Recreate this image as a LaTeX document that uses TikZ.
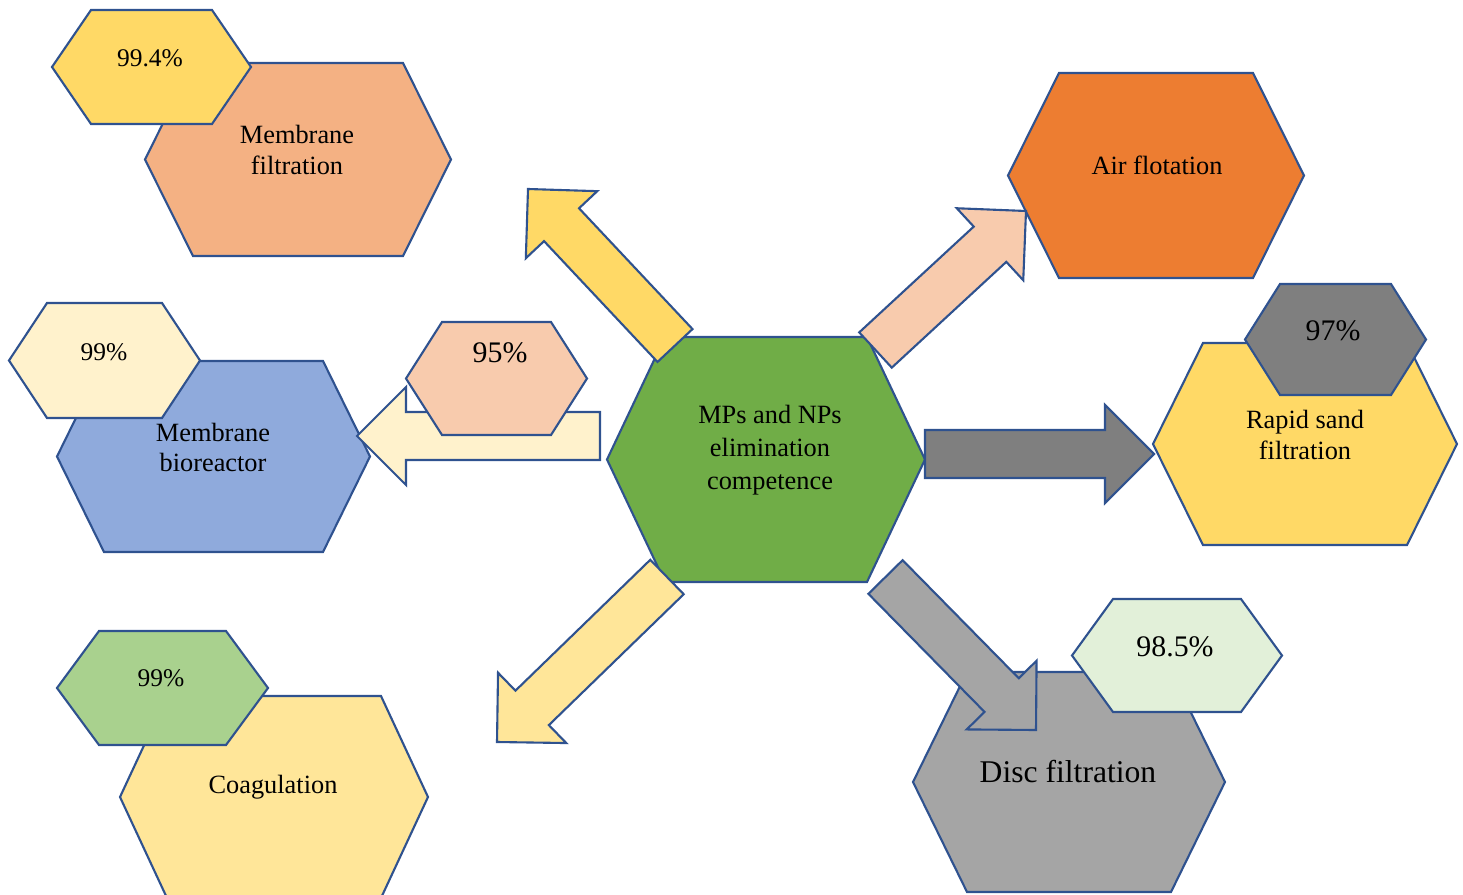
\documentclass[tikz,border=0pt]{standalone}
\usepackage{fontspec}
\setmainfont{Liberation Serif}
\usepackage{tikz}
\usetikzlibrary{calc}

\definecolor{outline}{HTML}{2F528F}
\definecolor{gold}{HTML}{FFD966}
\definecolor{salmon}{HTML}{F4B183}
\definecolor{cream}{HTML}{FFF2CC}
\definecolor{steel}{HTML}{8FAADC}
\definecolor{peach}{HTML}{F8CBAD}
\definecolor{leaf}{HTML}{70AD47}
\definecolor{tangerine}{HTML}{ED7D31}
\definecolor{darkgrey}{HTML}{7F7F7F}
\definecolor{midgrey}{HTML}{A5A5A5}
\definecolor{mint}{HTML}{E2F0D9}
\definecolor{butter}{HTML}{FFE699}
\definecolor{sage}{HTML}{A9D18E}

\newcommand{\shafthw}{0.48cm}
\newcommand{\headhw}{0.98cm}
\newcommand{\headlen}{0.98cm}

% fill, left, right, top, bottom, inset
\newcommand{\hexagon}[6]{%
  \draw[hexline, fill=#1] (#2,{(#4+#5)/2}) -- (#2+#6,#4) -- (#3-#6,#4) -- (#3,{(#4+#5)/2}) -- (#3-#6,#5) -- (#2+#6,#5) -- cycle;
}
% fill, base, tip
\newcommand{\blockarrow}[3]{%
  \coordinate (#2h) at ($(#3)!\headlen!(#2)$);
  \draw[hexline, fill=#1] ($(#2)!\shafthw!90:(#3)$) -- ($(#2h)!\shafthw!90:(#3)$) -- ($(#2h)!\headhw!90:(#3)$) -- (#3) -- ($(#2h)!\headhw!-90:(#3)$) -- ($(#2h)!\shafthw!-90:(#3)$) -- ($(#2)!\shafthw!-90:(#3)$) -- cycle;
}

\begin{document}
\begin{tikzpicture}[x=0.02cm, y=-0.02cm,
    hexline/.style={draw=outline, line width=1.2pt},
    txt/.style={font=\fontsize{15}{17.3}\selectfont, align=center, inner sep=0pt},
    pct/.style={font=\fontsize{14.5}{17}\selectfont, inner sep=0pt},
    bigpct/.style={font=\fontsize{17}{20}\selectfont, inner sep=0pt}]

    \useasboundingbox (0,0) rectangle (1463,895);

    % Left column
    \hexagon{salmon}{145}{451}{63}{256}{48}
    \hexagon{gold}{52}{251}{10}{124}{39}
    \hexagon{steel}{57}{370}{361}{552}{47}
    \hexagon{cream}{9}{200}{303}{418}{38}
    \hexagon{butter}{120}{428}{696}{898}{47}
    \hexagon{sage}{57}{268}{631}{745}{42}

    % Central cell
    \hexagon{leaf}{607}{925}{337}{582}{58}

    % Right column
    \hexagon{tangerine}{1008}{1304}{73}{278}{51}
    \hexagon{gold}{1153}{1457}{343}{545}{50}
    \hexagon{darkgrey}{1245}{1426}{284}{395}{35}
    \hexagon{midgrey}{913}{1225}{672}{892}{54}
    \hexagon{mint}{1072}{1282}{599}{712}{41}

    % Arrows out of the central cell
    \coordinate (ulS) at (675,345.5);  \coordinate (ulT) at (528,189);
    \coordinate (urS) at (875.5,350);  \coordinate (urT) at (1026,211);
    \coordinate (llS) at (667,577);    \coordinate (llT) at (497,742);
    \coordinate (lrS) at (885.5,577);  \coordinate (lrT) at (1036,730);
    \coordinate (rS) at (925,454);     \coordinate (rT) at (1154,454);
    \coordinate (lS) at (600,436);     \coordinate (lT) at (357,436);

    \blockarrow{gold}{ulS}{ulT}
    \blockarrow{peach}{urS}{urT}
    \blockarrow{butter}{llS}{llT}
    \blockarrow{midgrey}{lrS}{lrT}
    \blockarrow{darkgrey}{rS}{rT}
    \blockarrow{cream}{lS}{lT}

    \hexagon{peach}{406}{587}{322}{435}{36}

    % Labels
    \node[txt] (MF) at (297,150) {Membrane\\filtration};
    \node[pct] (P1) at (150,58) {99.4\%};
    \node[txt] (MBR) at (213,447.5) {Membrane\\bioreactor};
    \node[pct] (P2) at (104,352) {99\%};
    \node[bigpct] (P3) at (500,353) {95\%};
    \node[txt] (CO) at (273,787) {Coagulation};
    \node[pct] (P4) at (161,678) {99\%};
    \node[txt, font=\fontsize{15}{18.7}\selectfont] (C) at (770,450) {MPs and NPs\\elimination\\competence};
    \node[txt] (AF) at (1157,165) {Air flotation};
    \node[txt] (RS) at (1305,435) {Rapid sand\\filtration};
    \node[bigpct] (P5) at (1333,331) {97\%};
    \node[txt, font=\fontsize{18}{21}\selectfont] (DF) at (1068,772) {Disc filtration};
    \node[bigpct] (P6) at (1175,647) {98.5\%};
\end{tikzpicture}
\end{document}
